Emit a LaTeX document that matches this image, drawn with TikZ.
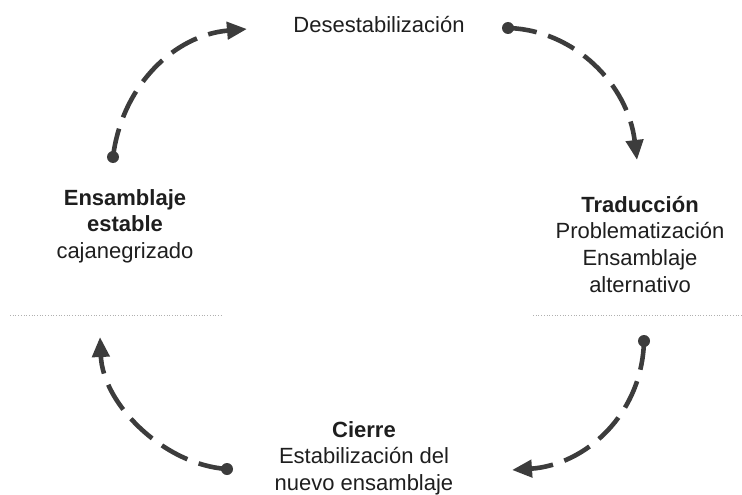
\documentclass[tikz,border=0pt]{standalone}
\usepackage{fontspec}
\setmainfont{Liberation Sans}
\usetikzlibrary{arrows.meta}
\definecolor{arcgray}{HTML}{3C3C3C}
\definecolor{txt}{HTML}{1E1E1E}
\definecolor{sepgray}{HTML}{B0B0B0}
\begin{document}
\begin{tikzpicture}[x=1pt,y=-1pt,
  arc/.style={draw=arcgray,line width=4.6pt,dash pattern=on 29pt off 12pt,
    -{Triangle[length=20pt,width=17pt]}},
  startdot/.style={fill=arcgray},
  lbl/.style={inner sep=0pt,anchor=base,text=txt,font=\fontsize{22}{26.8}\selectfont},
  sep/.style={draw=sepgray,line width=0.7pt,dotted}]
\useasboundingbox (0,0) rectangle (742,495);
\setlength{\tabcolsep}{0pt}
% labels
\node[lbl] (des) at (379,33) {Desestabilización};
\node[lbl] (tra) at (640,212) {\begin{tabular}[t]{c}\textbf{Traducción}\\Problematización\\Ensamblaje\\alternativo\end{tabular}};
\node[lbl] (cie) at (364,437) {\begin{tabular}[t]{c}\textbf{Cierre}\\Estabilización del\\nuevo ensamblaje\end{tabular}};
\node[lbl] (ens) at (125,205) {\begin{tabular}[t]{c}\textbf{Ensamblaje}\\\textbf{estable}\\cajanegrizado\end{tabular}};
% arc end points
\coordinate (a1) at (113,157); \coordinate (b1) at (247,29);
\coordinate (a2) at (508,28);  \coordinate (b2) at (637,160);
\coordinate (a3) at (644,341); \coordinate (b3) at (512,470);
\coordinate (a4) at (227,469); \coordinate (b4) at (100,337);
% separators
\coordinate (l1) at (10,315); \coordinate (l2) at (222,315);
\coordinate (r1) at (533,315); \coordinate (r2) at (742,315);
\draw[sep] (l1) -- (l2);
\draw[sep] (r1) -- (r2);
% arcs
\draw[arc] (a1) .. controls (122,85) and (175,35) .. (b1);
\draw[arc] (a2) .. controls (575,30) and (628,85) .. (b2);
\draw[arc] (a3) .. controls (642,415) and (585,465) .. (b3);
\draw[arc] (a4) .. controls (165,465) and (103,405) .. (b4);
\fill[startdot] (a1) circle (6pt);
\fill[startdot] (a2) circle (6pt);
\fill[startdot] (a3) circle (6pt);
\fill[startdot] (a4) circle (6pt);
\end{tikzpicture}
\end{document}
